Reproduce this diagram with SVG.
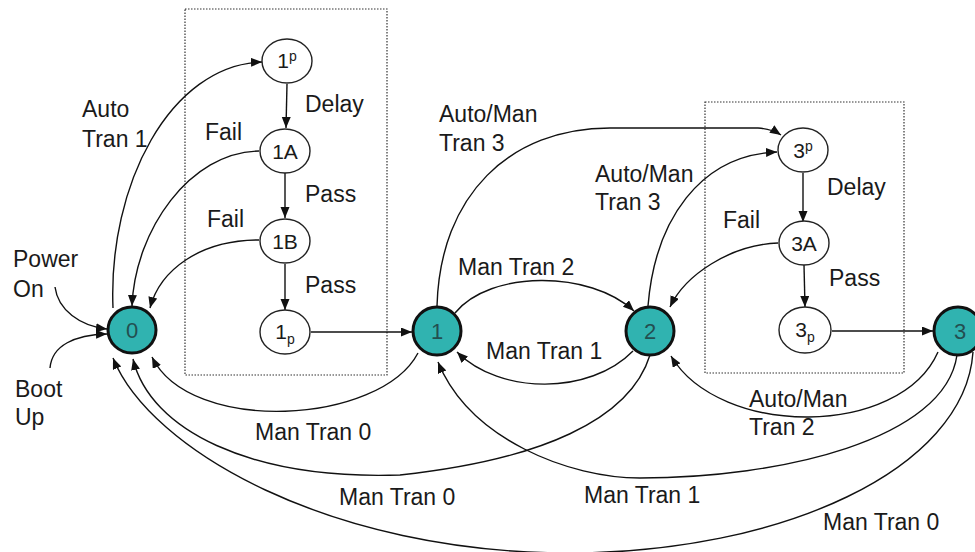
<svg xmlns="http://www.w3.org/2000/svg" width="975" height="552" viewBox="0 0 975 552">
<style>
.lbl{font-family:"Liberation Sans",Arial,sans-serif;font-size:23px;fill:#1a1a1a}
.conn{fill:none;stroke:#111;stroke-width:1.4}
.main{fill:#30b3b0;stroke:#111;stroke-width:3}
.sub{fill:#fff;stroke:#222;stroke-width:1.4}
.box{fill:none;stroke:#333;stroke-width:1.2;stroke-dasharray:1.5 1.5}
.mt{font-family:"Liberation Sans",Arial,sans-serif;font-size:22px;fill:#234f50;text-anchor:middle}
.st{font-family:"Liberation Sans",Arial,sans-serif;font-size:21px;fill:#1a1a1a;text-anchor:middle}
</style>
<defs>
<marker id="ah" markerUnits="userSpaceOnUse" markerWidth="12" markerHeight="10" refX="11" refY="4.5" orient="auto">
<path d="M0,0 L11,4.5 L0,9 z" fill="#111"/>
</marker>
</defs>
<rect width="975" height="552" fill="#fff"/>
<rect class="box" x="185" y="9" width="202" height="366"/>
<rect class="box" x="705" y="102" width="199" height="271"/>
<g id="connectors" marker-end="url(#ah)">
<path class="conn" d="M113,308 C108,185 170,65 262,62"/>
<path class="conn" d="M259,151 C190,152 135,230 132,306"/>
<path class="conn" d="M259,240 C200,240 160,270 150,308"/>
<path class="conn" d="M55,287 C58,310 80,326 107,329"/>
<path class="conn" d="M50,368 C52,345 75,335 107,334"/>
<path class="conn" d="M287,84 L286,128"/>
<path class="conn" d="M285,173 L285,218"/>
<path class="conn" d="M285,264 L285,310"/>
<path class="conn" d="M311,332 L412,332"/>
<path class="conn" d="M437,306 C440,195 510,128 610,128 L758,128 Q772,129 781,135"/>
<path class="conn" d="M648,306 C655,220 700,155 777,152"/>
<path class="conn" d="M455,313 C490,270 590,270 634,311"/>
<path class="conn" d="M633,351 C590,395 500,395 457,352"/>
<path class="conn" d="M418,353 C380,425 190,435 152,357"/>
<path class="conn" d="M650,355 C630,420 540,460 400,475 C250,480 150,430 133,359"/>
<path class="conn" d="M973,352 C965,470 780,553 570,553 C330,553 150,450 113,358"/>
<path class="conn" d="M803,173 L803,222"/>
<path class="conn" d="M804,265 L805,307"/>
<path class="conn" d="M778,243 C730,245 685,275 670,307"/>
<path class="conn" d="M832,331 L933,331"/>
<path class="conn" d="M938,352 C900,438 720,438 671,356"/>
<path class="conn" d="M957,355 C945,440 780,478 640,478 C570,478 470,440 438,362"/>
</g>
<g id="n0"><ellipse class="main" cx="132" cy="330" rx="24" ry="23"/><text class="mt" x="132" y="338">0</text></g>
<g id="n1"><ellipse class="main" cx="437" cy="331" rx="24" ry="24"/><text class="mt" x="437" y="339">1</text></g>
<g id="n2"><ellipse class="main" cx="650" cy="331" rx="24" ry="24"/><text class="mt" x="650" y="339">2</text></g>
<g id="n3"><ellipse class="main" cx="958" cy="331" rx="24" ry="24"/><text class="mt" x="960" y="339">3</text></g>
<g id="n1pre"><ellipse class="sub" cx="287" cy="61" rx="25" ry="22"/><text class="st" x="287" y="68">1<tspan font-size="14" dy="-7">p</tspan></text></g>
<g id="n1A"><ellipse class="sub" cx="285" cy="151" rx="25" ry="22"/><text class="st" x="285" y="159">1A</text></g>
<g id="n1B"><ellipse class="sub" cx="285" cy="241" rx="25" ry="22"/><text class="st" x="285" y="249">1B</text></g>
<g id="n1post"><ellipse class="sub" cx="285" cy="332" rx="25" ry="22"/><text class="st" x="285" y="339">1<tspan font-size="14" dy="5">p</tspan></text></g>
<g id="n3pre"><ellipse class="sub" cx="803" cy="150" rx="25" ry="22"/><text class="st" x="803" y="158">3<tspan font-size="14" dy="-7">p</tspan></text></g>
<g id="n3A"><ellipse class="sub" cx="804" cy="243" rx="25" ry="22"/><text class="st" x="804" y="251">3A</text></g>
<g id="n3post"><ellipse class="sub" cx="805" cy="330" rx="26" ry="23"/><text class="st" x="805" y="337">3<tspan font-size="14" dy="5">p</tspan></text></g>
<g id="labels">
<text class="lbl" x="82" y="117">Auto</text>
<text class="lbl" x="82" y="147">Tran 1</text>
<text class="lbl" x="205" y="140">Fail</text>
<text class="lbl" x="305" y="112">Delay</text>
<text class="lbl" x="305" y="202">Pass</text>
<text class="lbl" x="207" y="227">Fail</text>
<text class="lbl" x="305" y="293">Pass</text>
<text class="lbl" x="13" y="267">Power</text>
<text class="lbl" x="13" y="297">On</text>
<text class="lbl" x="15" y="397">Boot</text>
<text class="lbl" x="15" y="425">Up</text>
<text class="lbl" x="439" y="122">Auto/Man</text>
<text class="lbl" x="439" y="151">Tran 3</text>
<text class="lbl" x="595" y="182">Auto/Man</text>
<text class="lbl" x="595" y="210">Tran 3</text>
<text class="lbl" x="458" y="275">Man Tran 2</text>
<text class="lbl" x="486" y="359">Man Tran 1</text>
<text class="lbl" x="827" y="195">Delay</text>
<text class="lbl" x="723" y="228">Fail</text>
<text class="lbl" x="829" y="286">Pass</text>
<text class="lbl" x="749" y="407">Auto/Man</text>
<text class="lbl" x="749" y="435">Tran 2</text>
<text class="lbl" x="255" y="440">Man Tran 0</text>
<text class="lbl" x="339" y="505">Man Tran 0</text>
<text class="lbl" x="584" y="503">Man Tran 1</text>
<text class="lbl" x="823" y="530">Man Tran 0</text>
</g>
</svg>
